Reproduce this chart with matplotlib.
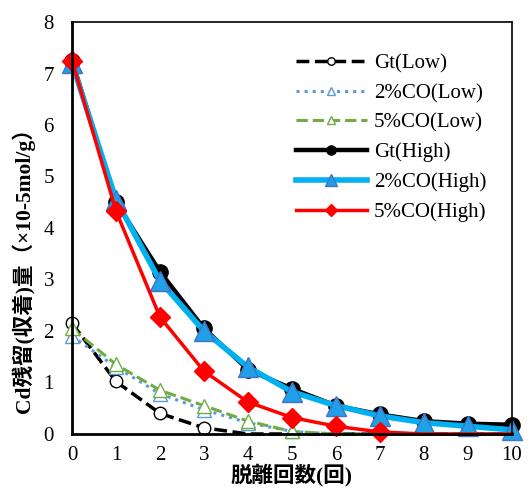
import matplotlib.pyplot as plt

plt.rcParams['font.family'] = ['Liberation Serif', 'Noto Sans CJK JP']

x = list(range(11))
gt_low = [2.15, 1.02, 0.40, 0.12, 0.0, 0.0, 0.0, 0.0, 0.0, 0.0, 0.0]
co2_low = [1.90, 1.30, 0.78, 0.47, 0.22, 0.05, 0.0, 0.0, 0.0, 0.0, 0.0]
co5_low = [2.05, 1.35, 0.85, 0.55, 0.25, 0.05, 0.0, 0.0, 0.0, 0.0, 0.0]
gt_high = [7.25, 4.50, 3.15, 2.05, 1.25, 0.88, 0.55, 0.38, 0.25, 0.20, 0.18]
co2_high = [7.20, 4.55, 2.97, 2.00, 1.30, 0.82, 0.55, 0.35, 0.22, 0.15, 0.08]
co5_high = [7.25, 4.33, 2.27, 1.22, 0.62, 0.32, 0.15, 0.04, 0.0, 0.0, 0.0]


def nz(vals):
    # zero points sit under the axis and show no marker
    return [i for i, v in enumerate(vals) if v > 0]


fig = plt.figure(figsize=(5.31, 4.9), dpi=100)
ax = fig.add_axes([0.1356, 0.1143, 0.8284, 0.8408])

series = [
    (gt_low, dict(ls='--', color='black', lw=2.5, marker='o', ms=9, mfc='white', mec='black', mew=1, label='Gt(Low)')),
    (co2_low, dict(ls=':', color='#5B9BD5', lw=2.2, marker='^', ms=10, mfc='white', mec='#5B9BD5', mew=1, label='2%CO(Low)')),
    (co5_low, dict(ls='--', color='#70AD47', lw=2.2, marker='^', ms=10, mfc='white', mec='#70AD47', mew=1, label='5%CO(Low)')),
    (gt_high, dict(ls='-', color='black', lw=3.2, marker='o', ms=11, mfc='black', mec='black', label='Gt(High)')),
    (co2_high, dict(ls='-', color='#00B0F0', lw=4, marker='^', ms=14, mfc='#1FA0E8', mec='#4472C4', mew=1, label='2%CO(High)')),
    (co5_high, dict(ls='-', color='#FF0000', lw=2.5, marker='D', ms=10, mfc='#FF0000', mec='#FF0000', label='5%CO(High)')),
]
for vals, kw in series:
    ax.plot(x, vals, markevery=nz(vals), clip_on=False, **kw)

ax.set_xlim(0, 10)
ax.set_ylim(0, 8)
ax.set_xticks(x)
ax.set_yticks(range(9))
ax.tick_params(length=0, labelsize=15)
ax.tick_params(axis='y', pad=13)
ax.tick_params(axis='x', pad=9)
for s in ax.spines.values():
    s.set_linewidth(1.2)
ax.spines['left'].set_linewidth(2)
ax.spines['bottom'].set_linewidth(2)

ax.set_xlabel('脱離回数(回)', fontsize=15.5, fontweight='bold')
ax.xaxis.set_label_coords(0.5, -0.072)
ax.set_ylabel('Cd残留(収着)量（×10-5mol/g）', fontsize=15.5, fontweight='bold')
ax.yaxis.set_label_coords(-0.085, 0.41)

ax.legend(loc='upper right', bbox_to_anchor=(0.985, 0.968), frameon=False, fontsize=15,
          handlelength=3.4, labelspacing=0.48, handletextpad=0.35, markerscale=0.6)

fig.savefig('out.png', dpi=100)
